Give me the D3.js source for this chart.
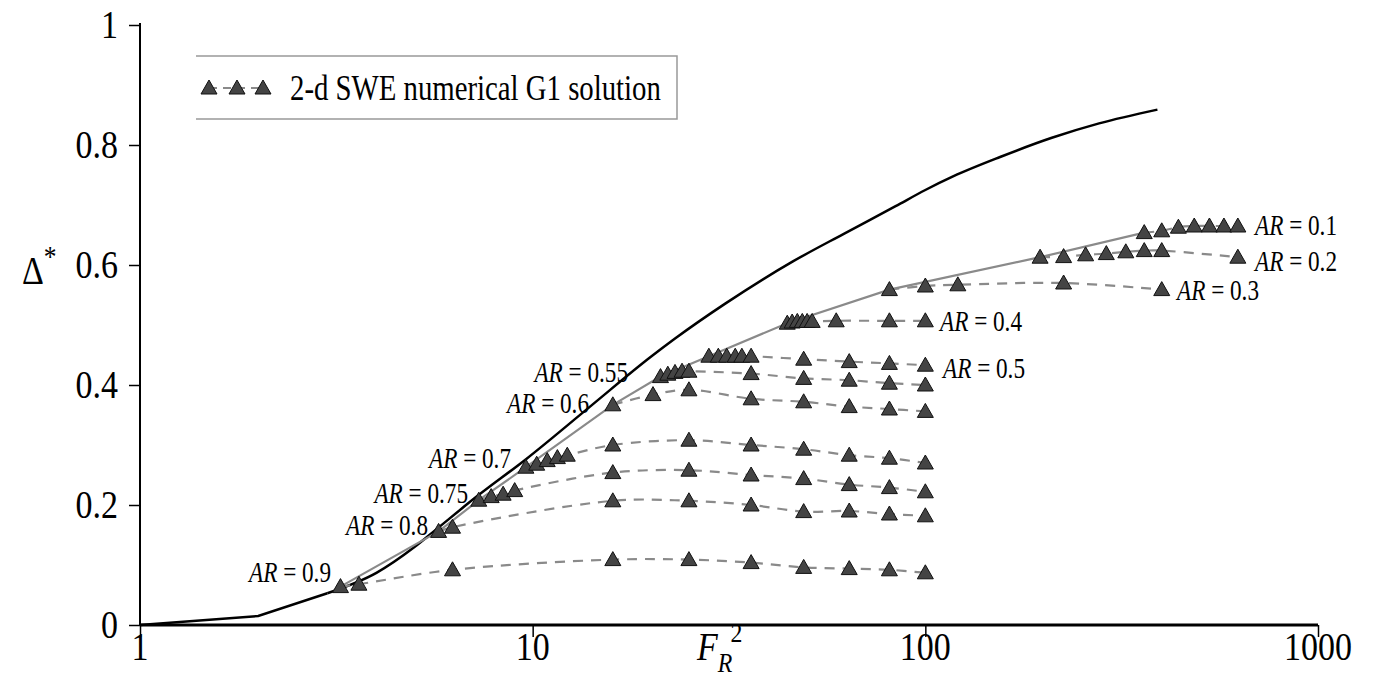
<!DOCTYPE html>
<html>
<head>
<meta charset="utf-8">
<script src="https://cdn.jsdelivr.net/npm/d3@7"></script>
<style>
  body { margin: 0; background: #fff; }
</style>
</head>
<body>
<svg id="chart" width="1376" height="693"></svg>
<script>
// theory curve (black)
const theoryX = [1, 2, 3, 4, 5, 5.6, 7.2, 9.6, 14, 20, 23, 31, 46, 62, 84, 100, 118, 155, 210, 277, 390];
const theoryY = [0, 0.015, 0.053, 0.087, 0.13, 0.156, 0.214, 0.276, 0.364, 0.447, 0.477, 0.536, 0.606, 0.652, 0.698, 0.725, 0.748, 0.78, 0.812, 0.836, 0.859];

// 2-d SWE numerical G1 solution, one pair of arrays per aspect ratio
const ar09X = [3.24, 3.61, 6.25, 16, 25, 36, 49, 64, 81, 100];
const ar09Y = [0.064, 0.068, 0.092, 0.109, 0.109, 0.104, 0.096, 0.094, 0.092, 0.087];
const ar08X = [5.76, 6.25, 16, 25, 36, 49, 64, 81, 100];
const ar08Y = [0.156, 0.163, 0.207, 0.207, 0.200, 0.189, 0.190, 0.185, 0.182];
const ar075X = [7.29, 7.84, 8.41, 9.0, 16, 25, 36, 49, 64, 81, 100];
const ar075Y = [0.208, 0.214, 0.218, 0.224, 0.254, 0.258, 0.250, 0.244, 0.234, 0.229, 0.222];
const ar07X = [9.61, 10.24, 10.89, 11.56, 12.25, 16, 25, 36, 49, 64, 81, 100];
const ar07Y = [0.263, 0.268, 0.274, 0.279, 0.283, 0.300, 0.308, 0.300, 0.293, 0.283, 0.278, 0.270];
const ar06X = [16, 20.25, 25, 36, 49, 64, 81, 100];
const ar06Y = [0.367, 0.384, 0.392, 0.377, 0.372, 0.364, 0.360, 0.356];
const ar055X = [21.16, 22.09, 23.04, 24.01, 25, 36, 49, 64, 81, 100];
const ar055Y = [0.414, 0.418, 0.421, 0.423, 0.423, 0.419, 0.411, 0.408, 0.403, 0.400];
const ar05X = [28.1, 29.7, 31.2, 32.8, 34.1, 36, 49, 64, 81, 100];
const ar05Y = [0.448, 0.448, 0.448, 0.448, 0.448, 0.448, 0.443, 0.439, 0.436, 0.433];
const ar04X = [44.5, 45.8, 47.2, 48.6, 50.0, 51.5, 59.3, 81, 100];
const ar04Y = [0.503, 0.505, 0.506, 0.506, 0.506, 0.506, 0.507, 0.507, 0.507];
const ar03X = [81, 100, 121, 225, 400];
const ar03Y = [0.559, 0.565, 0.567, 0.570, 0.559];
const ar02X = [196, 225, 256, 289, 324, 361, 400, 625];
const ar02Y = [0.613, 0.614, 0.617, 0.619, 0.622, 0.624, 0.624, 0.613];
const ar01X = [361, 400, 441, 484, 529, 576, 625];
const ar01Y = [0.654, 0.657, 0.663, 0.665, 0.665, 0.665, 0.665];

const xTicks = [1, 10, 100, 1000];
const yTicks = [0, 0.2, 0.4, 0.6, 0.8, 1];
const legendLabel = "2-d SWE numerical G1 solution";

const series = [
  { ar: "0.9", xs: ar09X, ys: ar09Y, lx: 331, ly: 582 },
  { ar: "0.8", xs: ar08X, ys: ar08Y, lx: 428, ly: 535 },
  { ar: "0.75", xs: ar075X, ys: ar075Y, lx: 468, ly: 503 },
  { ar: "0.7", xs: ar07X, ys: ar07Y, lx: 511, ly: 468 },
  { ar: "0.6", xs: ar06X, ys: ar06Y, lx: 589, ly: 413 },
  { ar: "0.55", xs: ar055X, ys: ar055Y, lx: 628, ly: 382 },
  { ar: "0.5", xs: ar05X, ys: ar05Y, lx: 943, ly: 378, left: true },
  { ar: "0.4", xs: ar04X, ys: ar04Y, lx: 940, ly: 331, left: true },
  { ar: "0.3", xs: ar03X, ys: ar03Y, lx: 1177, ly: 300, left: true },
  { ar: "0.2", xs: ar02X, ys: ar02Y, lx: 1255, ly: 271, left: true },
  { ar: "0.1", xs: ar01X, ys: ar01Y, lx: 1255, ly: 235, left: true }
];

const FONT = "'Liberation Serif', 'Times New Roman', Times, 'DejaVu Serif', serif";
const svg = d3.select("#chart");
const x = d3.scaleLog().domain([1, 1000]).range([140, 1318]);
const y = d3.scaleLinear().domain([0, 1]).range([625, 25]);

// text is drawn narrower than its height, like the source picture
function label(g, px, py, size, sx, anchor) {
  return g.append("g")
    .attr("transform", "translate(" + px + "," + py + ") scale(" + sx + ",1)")
    .append("text")
    .attr("text-anchor", anchor)
    .attr("font-family", FONT)
    .attr("fill", "#000")
    .style("font-size", size + "px");
}

// axes
const xAxis = d3.axisBottom(x).tickValues(xTicks).tickSize(12).tickFormat("");
svg.append("g").attr("transform", "translate(0,625)").call(xAxis)
  .call(g => g.select(".domain").attr("stroke-width", 3).attr("d", "M140,0H1318"))
  .call(g => g.selectAll(".tick line").attr("stroke-width", 1.5));
const yAxis = d3.axisLeft(y).tickValues(yTicks).tickSize(11).tickFormat("");
svg.append("g").attr("transform", "translate(140,0)").call(yAxis)
  .call(g => g.select(".domain").attr("stroke-width", 2).attr("d", "M0,23V625"))
  .call(g => g.selectAll(".tick line").attr("stroke-width", 1.5));

xTicks.forEach(v => {
  label(svg, x(v), 660, 40, 0.85, "middle").text(v);
});
yTicks.forEach(v => {
  label(svg, 118, y(v) + 13, 40, 0.85, "end").text(v);
});

// axis titles
const xt = label(svg, 697, 660, 40, 0.85, "start");
xt.append("tspan").style("font-style", "italic").text("F");
xt.append("tspan").style("font-style", "italic").style("font-size", "28px").attr("dy", 12).text("R");
xt.append("tspan").style("font-size", "28px").attr("dx", -2).attr("dy", -30).text("2");
const yt = label(svg, 22, 284, 40, 0.85, "start");
yt.append("tspan").text("\u0394");
yt.append("tspan").style("font-size", "30px").attr("dy", -18).text("*");

// theory curve: straight pieces up to F^2 = 3, smooth after
const theory = theoryX.map((v, i) => [v, theoryY[i]]);
const straight = d3.line().x(d => x(d[0])).y(d => y(d[1]));
const line = d3.line().x(d => x(d[0])).y(d => y(d[1])).curve(d3.curveMonotoneX);
svg.append("path")
  .datum(theory.filter(d => d[0] <= 3))
  .attr("fill", "none").attr("stroke", "#000").attr("stroke-width", 2.5)
  .attr("d", straight);
svg.append("path")
  .datum(theory.filter(d => d[0] >= 3))
  .attr("fill", "none").attr("stroke", "#000").attr("stroke-width", 2.5)
  .attr("d", line);

// dashed series lines
const smooth = d3.line().x(d => x(d[0])).y(d => y(d[1])).curve(d3.curveCatmullRom.alpha(0.5));
series.forEach(s => {
  svg.append("path")
    .datum(s.xs.map((v, i) => [v, s.ys[i]]))
    .attr("fill", "none").attr("stroke", "#8a8a8a").attr("stroke-width", 2.2)
    .attr("stroke-dasharray", "10,8")
    .attr("d", smooth);
});

// envelope through the first point of each series
const envelope = series.map(s => [s.xs[0], s.ys[0]]);
svg.append("path")
  .datum(envelope)
  .attr("fill", "none").attr("stroke", "#8a8a8a").attr("stroke-width", 2.2)
  .attr("d", straight);

// triangle markers
const tri = "M0,-8L8,6L-8,6Z";
series.forEach(s => {
  svg.append("g").selectAll("path")
    .data(s.xs.map((v, i) => [v, s.ys[i]]))
    .join("path")
    .attr("d", tri)
    .attr("transform", d => "translate(" + x(d[0]) + "," + y(d[1]) + ")")
    .attr("fill", "#444").attr("stroke", "#111").attr("stroke-width", 1);
});

// AR labels
series.forEach(s => {
  const t = label(svg, s.lx, s.ly, 29, 0.8, s.left ? "start" : "end");
  t.append("tspan").style("font-style", "italic").text("AR");
  t.append("tspan").text(" = " + s.ar);
});

// legend
const lg = svg.append("g");
lg.append("path")
  .attr("d", "M196,56H677V119H196")
  .attr("fill", "none").attr("stroke", "#999").attr("stroke-width", 1.5);
lg.append("line").attr("x1", 209).attr("x2", 263).attr("y1", 88).attr("y2", 88)
  .attr("stroke", "#8a8a8a").attr("stroke-width", 2).attr("stroke-dasharray", "8,6");
[209, 237, 263].forEach(cx => {
  lg.append("path").attr("d", tri).attr("transform", "translate(" + cx + ",88)")
    .attr("fill", "#444").attr("stroke", "#111");
});
label(lg, 290, 100, 36, 0.8, "start").text(legendLabel);
</script>
</body>
</html>
